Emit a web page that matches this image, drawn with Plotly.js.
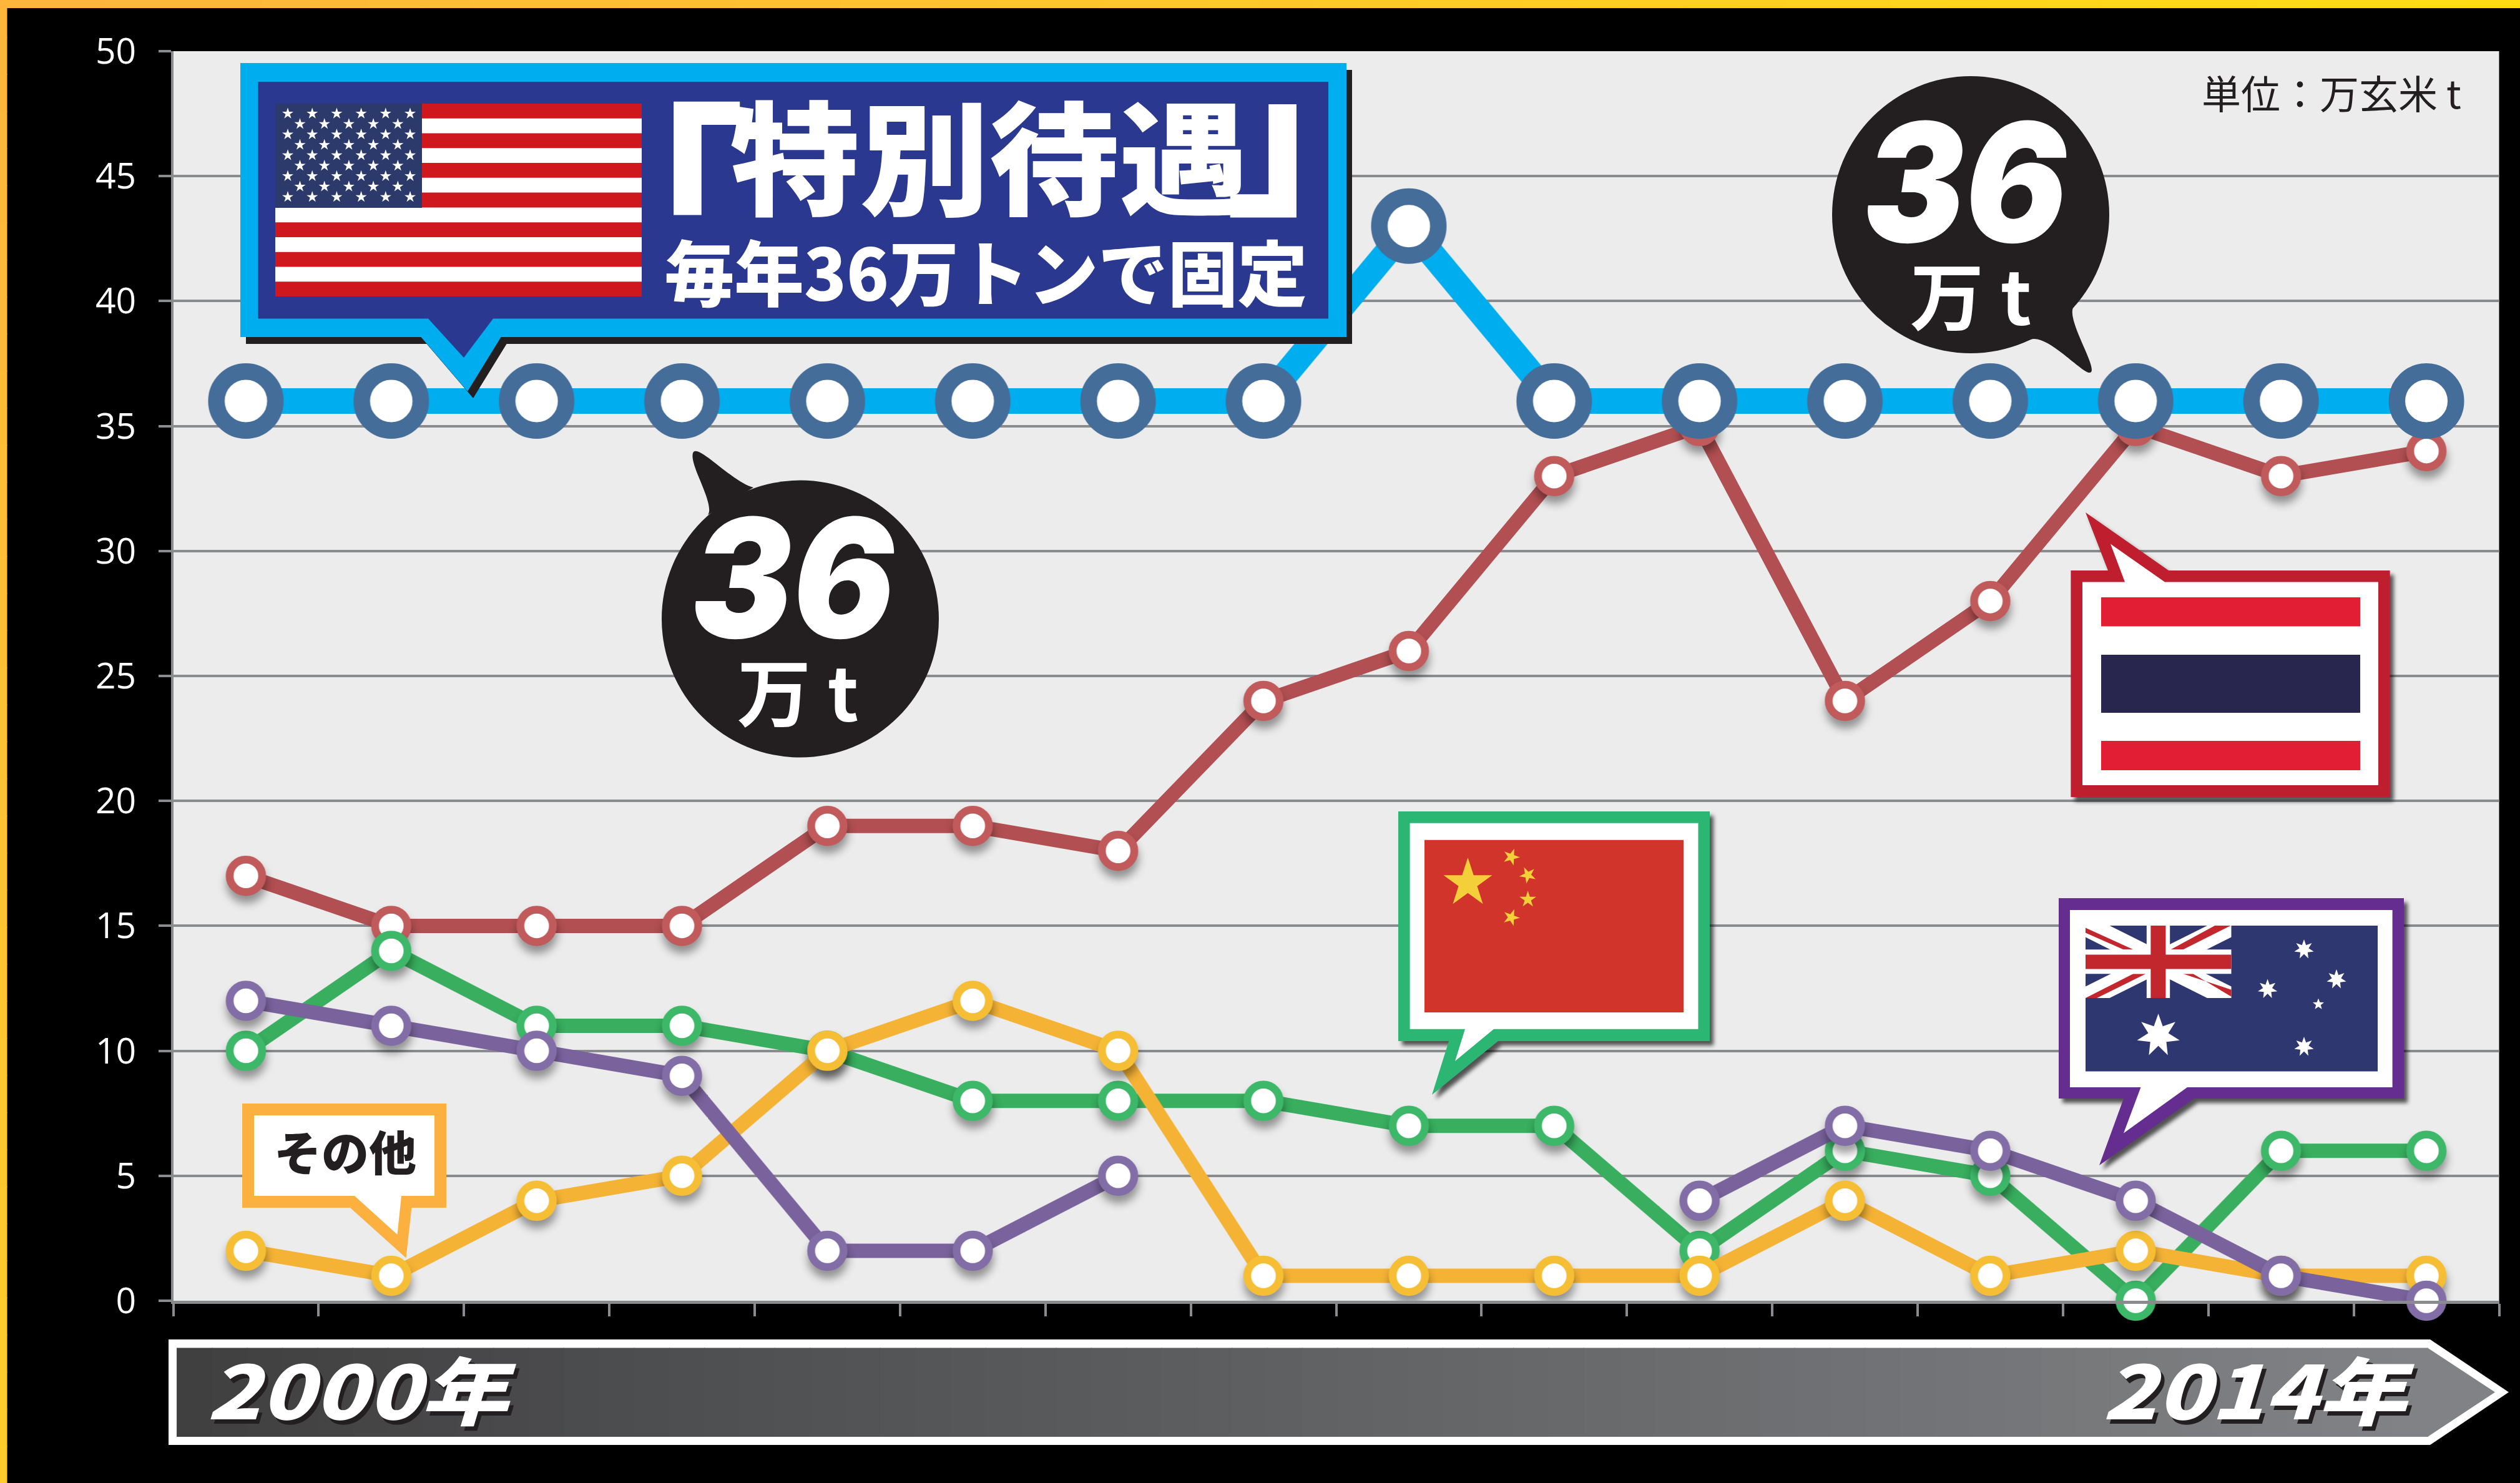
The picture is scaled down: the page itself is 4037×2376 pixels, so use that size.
<!DOCTYPE html>
<html><head><meta charset="utf-8">
<script src="https://cdn.plot.ly/plotly-3.0.1.min.js"></script>
<style>html,body{margin:0;padding:0;background:#000}#c{width:4037px;height:2376px}</style></head>
<body><div id="c"></div>
<script>
// ---- data ----
const periods = [0,1,2,3,4,5,6,7,8,9,10,11,12,13,14,15];
const usa       = [36,36,36,36,36,36,36,36,43,36,36,36,36,36,36,36];
const thailand  = [17,15,15,15,19,19,18,24,26,33,35,24,28,35,33,34];
const china     = [10,14,11,11,10,8,8,8,7,7,2,6,5,0,6,6];
const other     = [2,1,4,5,10,12,10,1,1,1,1,4,1,2,1,1];
const australia = [12,11,10,9,2,2,5,null,null,null,4,7,6,4,1,0];
const yTicks = [0,5,10,15,20,25,30,35,40,45,50];

// ---- canvas helpers ----
const W = 4037, H = 2376;
const fx = x => x / W, fy = y => 1 - y / H;
const shapes = [], anns = [], shadowed = [];
function pathOf(segs){
  return segs.map(s=>{
    const c=s[0]; let o=[];
    for(let i=1;i<s.length;i+=2) o.push(fx(s[i]).toFixed(6)+','+fy(s[i+1]).toFixed(6));
    return c+o.join(' ');
  }).join(' ')+' Z';
}
function addPath(segs,color,shadow){
  shapes.push({type:'path',xref:'paper',yref:'paper',path:pathOf(segs),fillcolor:color,line:{width:0}});
  if(shadow) shadowed.push([shapes.length-1,shadow]);
}
function poly(pts,color,shadow){
  addPath(pts.map((p,i)=>[i?'L':'M',p[0],p[1]]),color,shadow);
}
function rect(x0,y0,x1,y1,color){
  shapes.push({type:'rect',xref:'paper',yref:'paper',x0:fx(x0),x1:fx(x1),y0:fy(y1),y1:fy(y0),fillcolor:color,line:{width:0}});
}
function ellipse(cx,cy,r,color){
  shapes.push({type:'circle',xref:'paper',yref:'paper',x0:fx(cx-r),x1:fx(cx+r),y0:fy(cy+r),y1:fy(cy-r),fillcolor:color,line:{width:0}});
}
function star(cx,cy,R,color,n=5,ratio=0.382,rot=0){
  const pts=[];
  for(let i=0;i<n*2;i++){
    const a=-Math.PI/2+rot+i*Math.PI/n, r=i%2?R*ratio:R;
    pts.push([cx+r*Math.cos(a),cy+r*Math.sin(a)]);
  }
  poly(pts,color);
}
function mix(a,b,t){
  const p=h=>[1,3,5].map(i=>parseInt(h.substr(i,2),16));
  const A=p(a),B=p(b);
  return 'rgb('+A.map((v,i)=>Math.round(v+(B[i]-v)*t)).join(',')+')';
}
const stretch=[];
function ann(t,x,y,size,color,o={}){
  anns.push({text:t,xref:'paper',yref:'paper',x:fx(x),y:fy(y),xanchor:'center',yanchor:'middle',showarrow:false,
    font:{family:o.family||'"Noto Sans CJK JP"',size:size,color:color,weight:o.weight||400,style:o.style||'normal',shadow:o.shadow||'none'}});
  stretch.push([o.sx||1,o.sy||1]);
}

// ---- frame ----
for(let i=0;i<48;i++){ rect(i*W/48,0,(i+1)*W/48+1,13,mix('#FDB53C','#FFDD15',i/47)); }
for(let i=0;i<40;i++){ rect(0,i*H/40,11.5,(i+1)*H/40+1,mix('#FDB53C','#FFCC2B',i/39)); }

// ---- time arrow ----
poly([[270,2146],[3893,2146],[4019,2230.5],[3893,2315],[270,2315]],'#FFFFFF');
const bandN=64;
for(let i=0;i<bandN;i++){
  const a=283+(3889-283)*i/bandN,b=283+(3889-283)*(i+1)/bandN+1;
  rect(a,2159.5,b,2302,mix('#404041','#808285',i/(bandN-1)));
}
poly([[3889,2159.5],[3997,2230.5],[3889,2302]],'#808285');

// ---- USA box ----
const usBox=[[385,101],[2157,101],[2157,540],[802.6,540],[749,627],[674.5,540],[385,540]];
poly(usBox.map(p=>[p[0]+9,p[1]+11]),'#231F20');
poly(usBox,'#00AEEF');
poly([[413.5,131],[2128,131],[2128,510.6],[790,510.6],[743,573],[686,510.6],[413.5,510.6]],'#2A3890');
rect(441,166,1028,475,'#FFFFFF');
for(let i=0;i<7;i++){ const h=309/13; rect(441,166+i*2*h,1028,166+(i*2+1)*h,'#CE181E'); }
rect(441,166,676,333,'#2B3A6B');
for(let row=0;row<9;row++){
  const n=row%2?5:6;
  for(let c=0;c<n;c++) star(461+(row%2?19.5:0)+c*39.2,182+row*16.7,9.5,'#FFFFFF');
}

// ---- Thailand bubble ----
const thShadow='drop-shadow(6px 7px 3px rgba(0,0,0,.65))';
poly([[3317.4,914],[3377,914],[3341,821],[3474,914],[3828.6,914],[3828.6,1277],[3317.4,1277]],'#BE1E2D',thShadow);
poly([[3336,932.6],[3404,932.6],[3381,871.6],[3468,932.6],[3810,932.6],[3810,1258],[3336,1258]],'#FFFFFF');
rect(3366,957,3781,1003.5,'#E21E35');
rect(3366,1049,3781,1142,'#28264F');
rect(3366,1187,3781,1234,'#E21E35');

// ---- China bubble ----
poly([[2240,1300],[2739,1300],[2739,1668],[2400,1668],[2294,1754],[2321,1668],[2240,1668]],'#2BB673',thShadow);
poly([[2258.6,1318.7],[2720.5,1318.7],[2720.5,1648.7],[2393,1648.7],[2331,1700],[2347,1648.7],[2258.6,1648.7]],'#FFFFFF');
rect(2282,1345.7,2697,1622,'#D1342B');
star(2351.5,1415,41,'#F3D03A');
star(2421,1373,14,'#F3D03A',5,.382,.35);
star(2447.6,1402,14,'#F3D03A',5,.382,.8);
star(2447.6,1441,14,'#F3D03A',5,.382,0);
star(2421,1470,14,'#F3D03A',5,.382,.35);

// ---- Australia bubble ----
poly([[3298,1439],[3851,1439],[3851,1760],[3515,1760],[3363,1867],[3402,1760],[3298,1760]],'#662D91',thShadow);
poly([[3316,1458],[3832.6,1458],[3832.6,1742],[3504,1742],[3402,1815.4],[3429.5,1742],[3316,1742]],'#FFFFFF');
rect(3341,1483,3809,1716.5,'#2E3770');
const cx0=3341,cy0=1483,cw=233.5,ch=116;
const uj=(pts,col)=>poly(pts.map(p=>[cx0+p[0]*cw,cy0+p[1]*ch]),col);
uj([[0,0],[.165,0],[1,.84],[1,1],[.835,1],[0,.16]],'#FFFFFF');
uj([[1,0],[.835,0],[0,.84],[0,1],[.165,1],[1,.16]],'#FFFFFF');
uj([[0,.03],[.327,.33],[.26,.33],[0,.10]],'#C1272D');
uj([[.887,0],[.996,0],[.67,.33],[.585,.33]],'#C1272D');
uj([[0,1],[.078,1],[.413,.665],[.327,.665]],'#C1272D');
uj([[1,.886],[.67,.665],[.738,.665],[1,.98]],'#C1272D');
uj([[.419,0],[.579,0],[.579,1],[.419,1]],'#FFFFFF');
uj([[0,.33],[1,.33],[1,.665],[0,.665]],'#FFFFFF');
uj([[.447,0],[.55,0],[.55,1],[.447,1]],'#C1272D');
uj([[0,.40],[1,.40],[1,.60],[0,.60]],'#C1272D');
star(3457.6,1659,35,'#FFFFFF',7,.47);
star(3691,1521,16,'#FFFFFF',7,.47);
star(3743,1569,16,'#FFFFFF',7,.47);
star(3632.6,1584.6,16,'#FFFFFF',7,.47);
star(3714,1609,9.5,'#FFFFFF',5,.42);
star(3691,1677,16,'#FFFFFF',7,.47);

// ---- その他 bubble ----
poly([[388,1768],[715,1768],[715,1935],[659.4,1935],[650.5,2015.5],[561,1935],[388,1935]],'#FBB040');
poly([[407,1787],[696,1787],[696,1916],[643,1916],[636.5,1978],[568,1916],[407,1916]],'#FFFFFF');

// ---- black 36 bubbles ----
ellipse(1282,991.6,222,'#231F20');
addPath([['M',1134,825],['C',1146,808,1104,745,1110,726],['C',1116,708,1172,772,1207,781]],'#231F20');
ellipse(3157,344,222,'#231F20');
addPath([['M',3321,493],['C',3312,515,3358,585,3350,596],['C',3342,607,3278,530,3251,545]],'#231F20');

// ---- texts ----
ann('「',1037,282,260,'#FFFFFF',{weight:900,sx:1.2,sy:1.1});
ann('特別待遇',1585,243,196,'#FFFFFF',{weight:900,sx:1.06});
ann('」',2119,196,260,'#FFFFFF',{weight:900,sx:1.2,sy:1.1});
ann('毎年36万トンで固定',1579,431,114,'#FFFFFF',{weight:900,sx:.98});
ann('単位：万玄米 t',3735,147,63,'#231F20',{weight:400});
ann('その他',553,1843,76,'#231F20',{weight:900});
const num={family:'Inter, "Liberation Sans"',weight:900,style:'italic'};
ann('36',1271,926,252,'#FFFFFF',{...num,sx:.96,sy:1.05});
ann('36',3149,291,252,'#FFFFFF',{...num,sx:.96,sy:1.05});
ann('万 t',1278,1103,118,'#FFFFFF',{weight:700});
ann('万 t',3157,468,118,'#FFFFFF',{weight:700});
const yr={weight:900,style:'italic',shadow:'5px 8px 0 #231F20'};
ann('2000年',579,2222,118,'#FFFFFF',{...yr,sx:1.19});
ann('2014年',3618,2222,118,'#FFFFFF',{...yr,sx:1.2});

// ---- traces ----
function series(name,y,lineCol,lineW,mkCol,size,mkW){
  return {type:'scatter',mode:'lines+markers',name,x:periods,y,cliponaxis:false,connectgaps:false,
    line:{color:lineCol,width:lineW},
    marker:{size:size,color:'#FFFFFF',opacity:1,line:{color:mkCol,width:mkW}},hoverinfo:'skip'};
}
const traces=[
  series('タイ',thailand,'#B14F52',23,'#C05A5B',52,12.5),
  series('中国',china,'#38AE5E',23,'#3CB868',52,12.5),
  series('その他',other,'#F5B335',23,'#F5BE35',52,12.5),
  series('オーストラリア',australia,'#7A629C',23,'#826DA7',52,12.5),
  series('米国',usa,'#00AEEF',41,'#456D9A',94.5,26.5)
];

const gridCol='#898B8E';
const layout={
  width:W,height:H,paper_bgcolor:'#000000',plot_bgcolor:'#ECECEC',showlegend:false,
  margin:{l:0,r:0,t:0,b:0,autoexpand:false},
  font:{family:'"Open Sans"',color:'#FFFFFF',size:57},
  xaxis:{domain:[277.5/W,4003.5/W],type:'linear',range:[-0.5,15.5],tick0:-0.5,dtick:1,showticklabels:false,
    ticks:'outside',ticklen:20,tickwidth:4,tickcolor:gridCol,showgrid:false,zeroline:false,showline:true,linecolor:gridCol,linewidth:5},
  yaxis:{domain:[1-2084/H,1-82/H],type:'linear',range:[0,50],tickmode:'array',tickvals:yTicks,ticktext:yTicks.map(String),
    ticks:'outside',ticklen:20,tickwidth:4,tickcolor:gridCol,gridcolor:gridCol,gridwidth:4,zeroline:false,showline:true,linecolor:gridCol,linewidth:4,
    tickfont:{family:'"Open Sans"',size:57,color:'#FFFFFF'},ticklabelstandoff:24},
  shapes:shapes,annotations:anns
};
Plotly.newPlot('c',traces,layout,{staticPlot:true,displayModeBar:false}).then(()=>{
  const gd=document.getElementById('c');
  gd.querySelectorAll('.scatterlayer .trace').forEach((t,i)=>{
    if(i<4){ const p=t.querySelector('.points'); if(p) p.style.filter='drop-shadow(1px 12px 7px rgba(0,0,0,.38))'; }
  });
  shadowed.forEach(([i,f])=>{
    const el=gd.querySelector('.shapelayer path[data-index="'+i+'"]');
    if(el) el.style.filter=f;
  });
  stretch.forEach((s,i)=>{
    if(s[0]===1&&s[1]===1) return;
    const el=gd.querySelector('.annotation[data-index="'+i+'"] text');
    if(el){el.style.transformBox='fill-box';el.style.transformOrigin='center';el.style.transform='scale('+s[0]+','+s[1]+')';}
  });
});
</script></body></html>
